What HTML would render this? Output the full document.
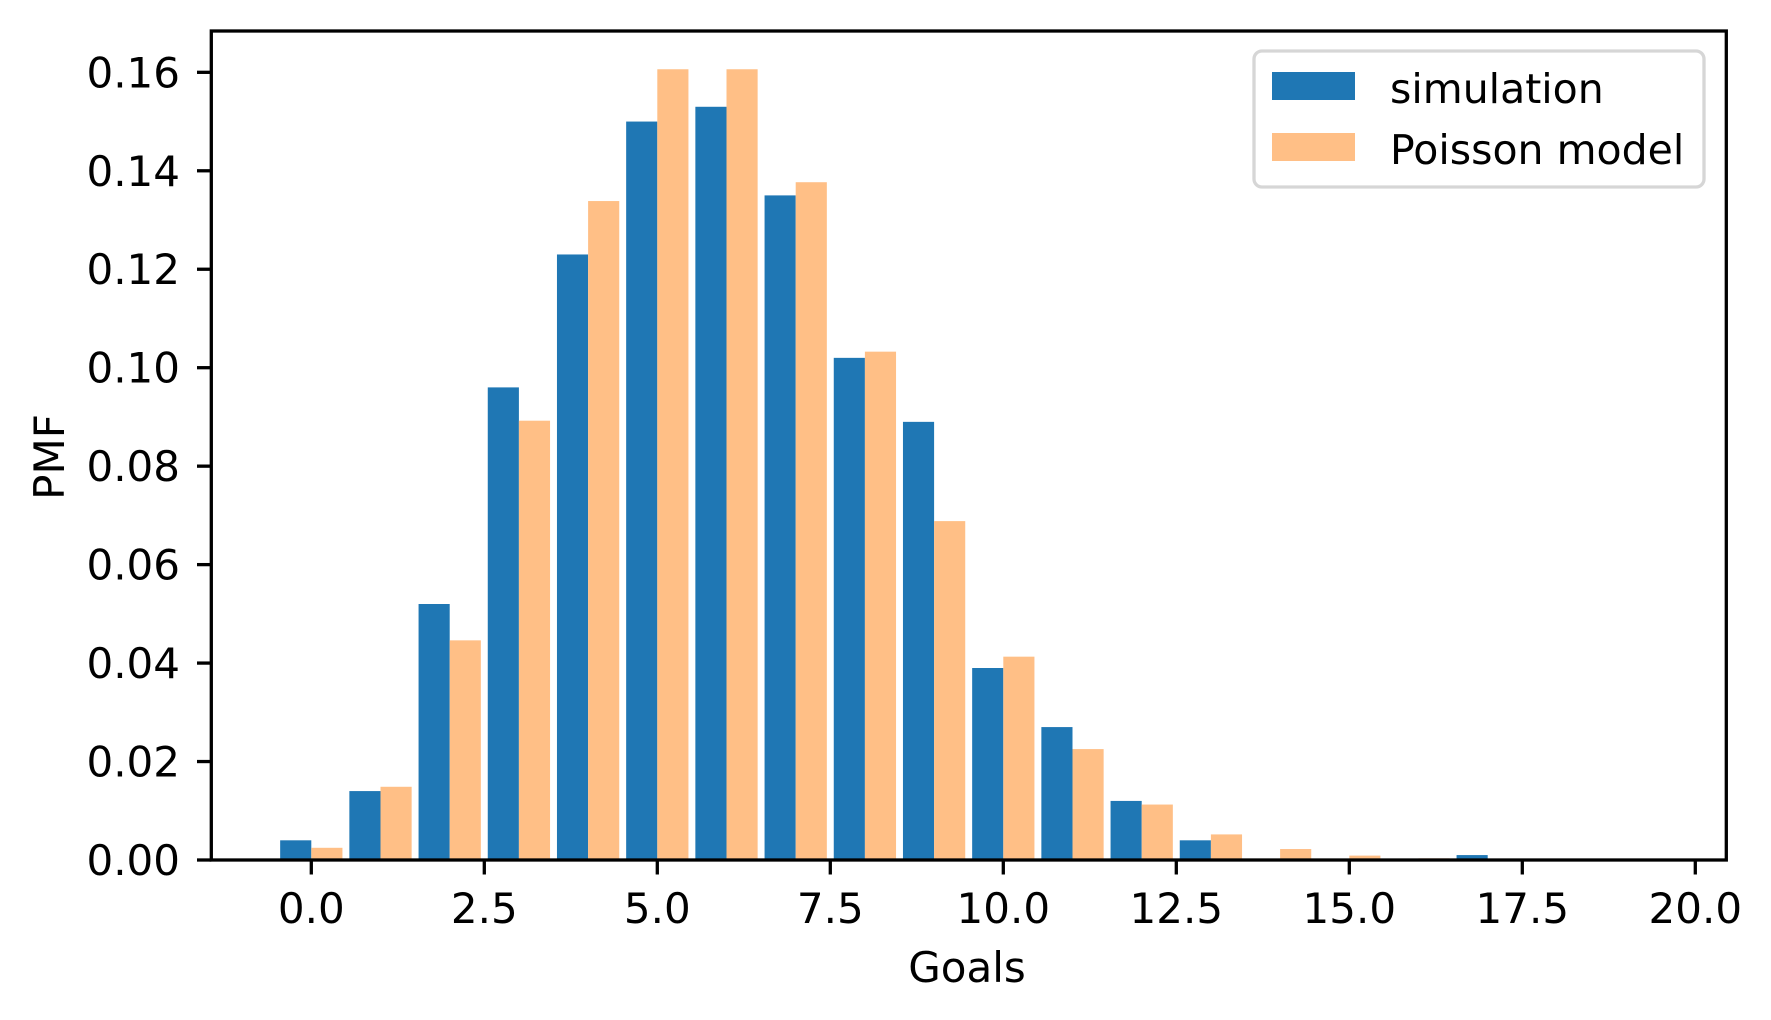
<!DOCTYPE html>
<html><head><meta charset="utf-8"><style>html,body{margin:0;padding:0;background:#fff}svg{display:block}text{font-family:"DejaVu Sans","Liberation Sans",sans-serif;fill:#000}</style></head>
<body>
<svg id="c" width="1771" height="1020" viewBox="0 0 1771 1020" xmlns="http://www.w3.org/2000/svg">
<rect width="1771" height="1020" fill="#fff"/>
<g id="bars"></g>
<rect x="211.3" y="31" width="1515" height="829" fill="none" stroke="#000" stroke-width="3.3"/>
<g id="ticks" stroke="#000" stroke-width="3.3"></g>
<g id="labels" font-size="42"></g>
<text x="967" y="982" font-size="42" text-anchor="middle">Goals</text>
<text transform="translate(64,457) rotate(-90)" font-size="42" text-anchor="middle">PMF</text>
<rect x="1254" y="51" width="450" height="136" rx="8" fill="#fff" fill-opacity="0.8" stroke="#d6d6d6" stroke-width="3.3"/>
<rect x="1272" y="72" width="83" height="28" fill="#1f77b4"/>
<rect x="1272" y="133" width="83" height="28" fill="#ffbf86"/>
<text x="1390" y="103" font-size="41">simulation</text>
<text x="1390" y="164" font-size="41">Poisson model</text>
</svg>
<script>
var ns="http://www.w3.org/2000/svg";
function X(v){return 311.3+v*69.2}
function Y(v){return 860-v*4923}
var sim={0:.004,1:.014,2:.052,3:.096,4:.123,5:.150,6:.153,7:.135,8:.102,9:.089,10:.039,11:.027,12:.012,13:.004,17:.001};
var lam=6,p=Math.exp(-lam),pois=[];for(var k=0;k<=20;k++){pois.push(p);p=p*lam/(k+1);}
var b=document.getElementById('bars');
function r(x,y,w,h,c){var e=document.createElementNS(ns,'rect');e.setAttribute('x',x);e.setAttribute('y',y);e.setAttribute('width',w);e.setAttribute('height',h);e.setAttribute('fill',c);b.appendChild(e);}
for(var k in sim){var v=sim[k];r(X(k-0.45),Y(v),0.45*69.2,860-Y(v),'#1f77b4');}
for(var k=0;k<=20;k++){var v=pois[k];if(v<0.0002)continue;r(X(k),Y(v),0.45*69.2,860-Y(v),'#ffbf86');}
var t=document.getElementById('ticks'),l=document.getElementById('labels');
function ln(x1,y1,x2,y2){var e=document.createElementNS(ns,'line');e.setAttribute('x1',x1);e.setAttribute('y1',y1);e.setAttribute('x2',x2);e.setAttribute('y2',y2);t.appendChild(e);}
function tx(x,y,s,a){var e=document.createElementNS(ns,'text');e.setAttribute('x',x);e.setAttribute('y',y);e.setAttribute('text-anchor',a);e.textContent=s;l.appendChild(e);}
for(var i=0;i<=8;i++){var y=860-i*98.46;ln(197,y,211.3,y);tx(180,y+15,(i*0.02).toFixed(2),'end');}
for(var i=0;i<=8;i++){var x=X(i*2.5);ln(x,860,x,874.5);tx(x,923,(i*2.5).toFixed(1),'middle');}
</script>
</body></html>
